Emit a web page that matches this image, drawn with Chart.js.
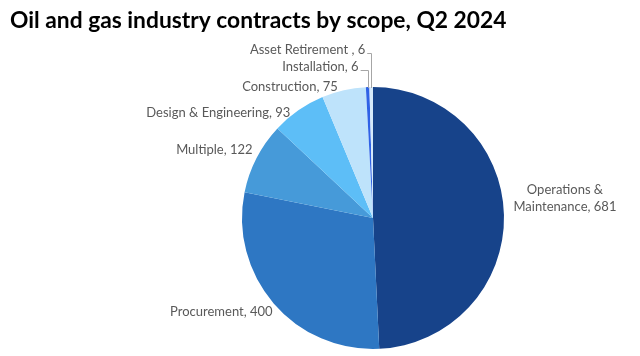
<!DOCTYPE html>
<html>
<head>
<meta charset="utf-8">
<script src="https://cdn.jsdelivr.net/npm/chart.js@4.4.1/dist/chart.umd.min.js"></script>
<style>
html,body{margin:0;padding:0;background:#fff;}
#wrap{width:640px;height:356px;position:relative;}
</style>
</head>
<body>
<div id="wrap"><canvas id="c" width="640" height="356"></canvas></div>
<script>
const titleText = 'Oil and gas industry contracts by scope, Q2 2024';
const categories = ['Operations & Maintenance', 'Procurement', 'Multiple', 'Design & Engineering', 'Construction', 'Installation', 'Asset Retirement '];
const values = [681, 400, 122, 93, 75, 6, 6];
const colors = ['#17438A', '#2E77C3', '#469AD9', '#5DBEF7', '#BEE3FB', '#2F62E6', '#D6EAFA'];

// label layout: offset from slice's outer-edge midpoint, alignment, leader line
const labelLayout = [
  {dx: 61, dy: -17, align: 'center', lines: ['Operations &', 'Maintenance, 681']},
  {dx: -1, dy: 8, align: 'right'},
  {dx: -4, dy: -8, align: 'right'},
  {dx: -8, dy: 2, align: 'right'},
  {dx: -6, dy: -3, align: 'right'},
  {dx: -9, dy: -20, align: 'right', leader: true},
  {dx: -6, dy: -37, align: 'right', leader: true}
];

const labelPlugin = {
  id: 'labels',
  afterDraw(chart) {
    const ctx = chart.ctx;
    ctx.save();
    // title
    ctx.fillStyle = '#000';
    ctx.font = 'bold 22.8px Lato, "Open Sans", sans-serif';
    ctx.textAlign = 'left';
    ctx.textBaseline = 'alphabetic';
    ctx.fillText(titleText, 10, 28);

    const meta = chart.getDatasetMeta(0);
    ctx.font = '13px Lato, "Open Sans", sans-serif';
    ctx.fillStyle = '#595959';
    ctx.textBaseline = 'middle';
    meta.data.forEach((arc, i) => {
      const p = arc.getProps(['x', 'y', 'startAngle', 'endAngle', 'outerRadius'], true);
      const mid = (p.startAngle + p.endAngle) / 2;
      const ax = p.x + Math.cos(mid) * p.outerRadius;
      const ay = p.y + Math.sin(mid) * p.outerRadius;
      const L = labelLayout[i];
      const tx = ax + L.dx, ty = ay + L.dy;
      const lines = L.lines || [categories[i] + ', ' + values[i]];
      ctx.textAlign = L.align;
      const lh = 17;
      lines.forEach((ln, k) => {
        ctx.fillText(ln, tx, ty + (k - (lines.length - 1) / 2) * lh);
      });
      if (L.leader) {
        ctx.strokeStyle = '#A6A6A6';
        ctx.lineWidth = 1;
        ctx.beginPath();
        const lx = Math.round(ax) + 0.5;
        ctx.moveTo(tx + 2, Math.round(ty + 3) + 0.5);
        ctx.lineTo(lx, Math.round(ty + 3) + 0.5);
        ctx.lineTo(lx, ay + 1);
        ctx.stroke();
      }
    });
    ctx.restore();
  }
};

new Chart(document.getElementById('c'), {
  type: 'pie',
  data: {
    labels: categories,
    datasets: [{
      data: values,
      backgroundColor: colors,
      borderWidth: 0,
      hoverOffset: 0
    }]
  },
  options: {
    responsive: false,
    animation: false,
    layout: {padding: {top: 87, bottom: 7, left: 242, right: 136}},
    plugins: {
      legend: {display: false},
      title: {display: false},
      tooltip: {enabled: false}
    }
  },
  plugins: [labelPlugin]
});
</script>
</body>
</html>
